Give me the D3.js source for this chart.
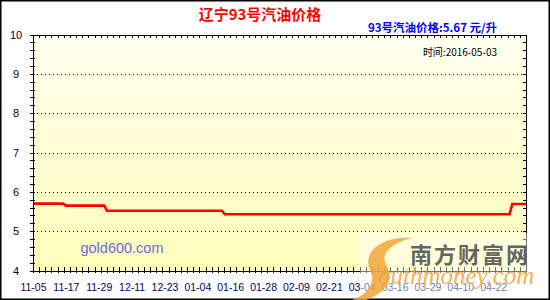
<!DOCTYPE html>
<html>
<head>
<meta charset="utf-8">
<script src="https://cdn.jsdelivr.net/npm/d3@7"></script>
<style>
  body { margin: 0; background: #fff; }
  svg { display: block; }
  .axis path, .axis line { stroke: #000; shape-rendering: crispEdges; }
  .axis text { font-family: "Liberation Sans", Arial, sans-serif; }
</style>
</head>
<body>
<div id="chart"></div>
<script>
// price change points (date the new price starts) and price in yuan/litre
const changeDates = ['2015-11-05', '2015-11-17', '2015-12-02', '2016-01-14', '2016-04-28'];
const prices = [5.70, 5.65, 5.52, 5.43, 5.69];
const endDate = '2016-05-03';

// x tick labels, one every 12 records
const xLabels = ['11-05', '11-17', '11-29', '12-11', '12-23', '01-04', '01-16', '01-28',
                 '02-09', '02-21', '03-04', '03-16', '03-29', '04-10', '04-22'];
const yLabels = [4, 5, 6, 7, 8, 9, 10];

const title = '辽宁93号汽油价格';
const subtitle = '93号汽油价格:5.67 元/升';
const dateText = '时间:2016-05-03';

const width = 550, height = 300;
const margin = {top: 34.5, right: 24, bottom: 29.5, left: 33};
const x0 = margin.left, x1 = width - margin.right;
const y0 = margin.top, y1 = height - margin.bottom;

const parse = d3.timeParse('%Y-%m-%d');
const start = parse(changeDates[0]);
const dayOf = s => d3.timeDay.count(start, parse(s));
const totalDays = dayOf(endDate);

const x = d3.scaleLinear().domain([0, totalDays]).range([x0, x1]);
const y = d3.scaleLinear().domain([4, 10]).range([y1, y0]);

const svg = d3.select('#chart').append('svg')
    .attr('width', width)
    .attr('height', height);

const defs = svg.append('defs');
const grad = defs.append('linearGradient')
    .attr('id', 'bg').attr('x1', 0).attr('y1', 0).attr('x2', 0).attr('y2', 1);
grad.append('stop').attr('offset', '0%').attr('stop-color', '#fffff0');
grad.append('stop').attr('offset', '100%').attr('stop-color', '#fffdb9');

svg.append('rect')
    .attr('x', 0.75).attr('y', 0.75)
    .attr('width', width - 1.5).attr('height', height - 1.5)
    .attr('fill', '#fff').attr('stroke', '#000').attr('stroke-width', 1.5);

svg.append('rect')
    .attr('x', x0).attr('y', y0)
    .attr('width', x1 - x0).attr('height', y1 - y0)
    .attr('fill', 'url(#bg)');

// dotted grid at whole numbers
svg.append('g')
    .selectAll('line')
    .data(yLabels.filter(d => d > 4 && d < 10))
    .enter().append('line')
    .attr('x1', x0).attr('x2', x1)
    .attr('y1', d => Math.round(y(d)) + 0.5).attr('y2', d => Math.round(y(d)) + 0.5)
    .attr('stroke', '#000')
    .attr('stroke-dasharray', '1,3');

// step line
const pts = [];
changeDates.forEach((d, i) => {
  const s = dayOf(d);
  const e = i < changeDates.length - 1 ? dayOf(changeDates[i + 1]) - 1 : totalDays;
  pts.push([s, prices[i]], [e, prices[i]]);
});

const line = d3.line()
    .x(d => x(d[0]))
    .y(d => y(d[1]));

svg.append('path')
    .datum(pts)
    .attr('d', line)
    .attr('fill', 'none')
    .attr('stroke', '#ff0000')
    .attr('stroke-width', 2.6);

// axes
const yMinor = d3.range(40, 101, 2).map(d => d / 10);
const xMinor = d3.range(0, 81).map(i => i * totalDays / 80);
const xMajor = xLabels.map((d, i) => i * 12);

const gLeft = svg.append('g').attr('class', 'axis')
    .attr('transform', `translate(${x0},0)`)
    .call(d3.axisLeft(y).tickValues(yMinor).tickSize(3).tickPadding(0)
        .tickFormat(d => Number.isInteger(d) ? d : ''));
gLeft.selectAll('.tick line').attr('x1', 1.5);
gLeft.selectAll('.tick text')
    .attr('x', -17).attr('text-anchor', 'middle')
    .attr('font-size', 11).attr('fill', '#000033');

svg.append('g').attr('class', 'axis')
    .attr('transform', `translate(${x1},0)`)
    .call(d3.axisLeft(y).tickValues(yMinor).tickSize(3).tickFormat(''));

svg.append('g').attr('class', 'axis')
    .attr('transform', `translate(0,${y0})`)
    .call(d3.axisBottom(x).tickValues(xMinor).tickSize(3).tickFormat(''));

const gBottom = svg.append('g').attr('class', 'axis')
    .attr('transform', `translate(0,${y1})`)
    .call(d3.axisBottom(x).tickValues(xMinor).tickSize(2).tickFormat(''));
gBottom.selectAll('.tick line').attr('y1', -3.5);

const gLabels = svg.append('g').attr('class', 'axis')
    .attr('transform', `translate(0,${y1})`)
    .call(d3.axisBottom(x).tickValues(xMajor).tickSize(0).tickPadding(13)
        .tickFormat((d, i) => xLabels[i]));
gLabels.select('.domain').remove();
gLabels.selectAll('.tick text')
    .attr('font-size', 10.5)
    .attr('fill', (d, i) => i === 0 ? '#330033' : '#000066');

// titles
svg.append('text')
    .attr('x', 260).attr('y', 20)
    .attr('text-anchor', 'middle')
    .attr('font-family', '"Noto Sans CJK SC", "Liberation Sans", sans-serif')
    .attr('font-weight', 'bold').attr('font-size', 15)
    .attr('fill', '#ff0000')
    .text(title);

svg.append('text')
    .attr('x', 497).attr('y', 32)
    .attr('text-anchor', 'end')
    .attr('font-family', '"Noto Sans CJK SC", "Liberation Sans", sans-serif')
    .attr('font-weight', 'bold').attr('font-size', 11.5)
    .attr('fill', '#0000ff')
    .text(subtitle);

svg.append('text')
    .attr('x', 497).attr('y', 56)
    .attr('text-anchor', 'end')
    .attr('font-family', '"Noto Sans CJK SC", "Liberation Sans", sans-serif')
    .attr('font-size', 10)
    .attr('fill', '#000')
    .text(dateText);

// watermarks
svg.append('text')
    .attr('x', 122).attr('y', 253)
    .attr('text-anchor', 'middle')
    .attr('font-family', '"Liberation Sans", Arial, sans-serif')
    .attr('font-size', 14.5)
    .attr('fill', '#6a6ae0')
    .text('gold600.com');

svg.append('rect')
    .attr('x', 360).attr('y', 233)
    .attr('width', 188).attr('height', 65)
    .attr('fill', '#fff').attr('opacity', 0.45);

svg.append('path')
    .attr('d', 'M412,238 C382,236 362,252 370,270 C376,283 368,294 352,300 L366,300 C388,292 394,278 386,264 C380,253 392,243 412,238 Z')
    .attr('fill', '#f2a43a').attr('opacity', 0.85);

svg.append('text')
    .attr('x', 410).attr('y', 263)
    .attr('font-family', '"Noto Sans CJK SC", sans-serif')
    .attr('font-weight', 'bold').attr('font-size', 22)
    .attr('letter-spacing', 2)
    .attr('fill', '#555')
    .attr('opacity', 0.9)
    .text('南方财富网');

svg.append('text')
    .attr('x', 378).attr('y', 284)
    .attr('font-family', '"Liberation Serif", "DejaVu Serif", serif')
    .attr('font-style', 'italic').attr('font-size', 25)
    .attr('fill', '#f2a43a')
    .attr('opacity', 0.85)
    .text('outhmoney.com');
</script>
</body>
</html>
